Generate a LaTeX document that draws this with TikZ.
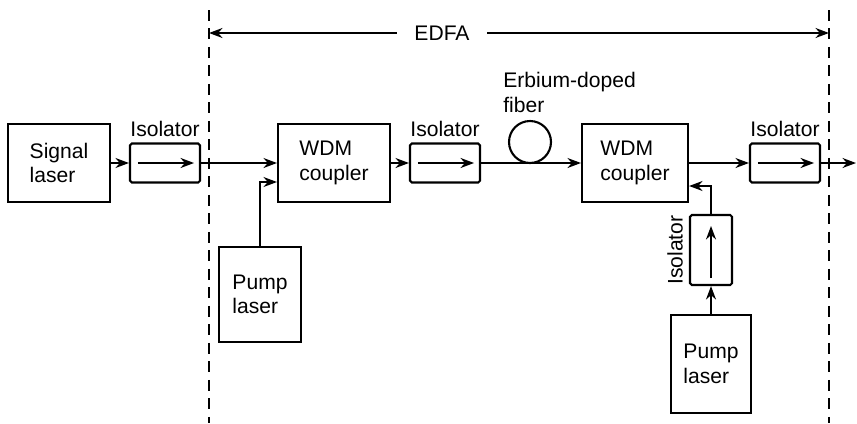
\documentclass[tikz,border=0pt]{standalone}
\usepackage{fontspec}
\setmainfont{Liberation Sans}
\usetikzlibrary{positioning, arrows.meta, calc}

\begin{document}
\begin{tikzpicture}[
  x=0.02cm, y=-0.02cm,
  >={Stealth[length=0.27cm, width=0.2cm]},
  every node/.style={font=\fontsize{12}{14}\selectfont},
  block/.style={
    draw, line width=1.2pt, align=left,
    minimum width=2.2cm, minimum height=1.56cm,
  },
  iso/.style={
    draw, line width=1.2pt, rounded corners=1pt,
    minimum width=1.4cm, minimum height=0.78cm,
  },
  arr/.style={->, line width=1pt},
  inarr/.style={->, line width=1.4pt},
  dline/.style={line width=1.5pt, dash pattern=on 0.22cm off 0.15cm},
  label/.style={inner sep=1pt},
]
\useasboundingbox (0,0) rectangle (857,423);

% === main row ===
\node[block, minimum width=2.04cm] (sig) at (59,163) {Signal\\laser};
\node[iso] (iso1) at (165,163) {};
\node[block, minimum width=2.24cm] (wdm1) at (334,163) {WDM\\coupler};
\node[iso] (iso2) at (445,163) {};
\node[circle, draw, line width=1.2pt, minimum size=0.84cm, inner sep=0pt] (fiber) at (530,142) {};
\node[block, minimum width=2.12cm] (wdm2) at (635,163) {WDM\\coupler};
\node[iso] (iso3) at (785,163) {};
\coordinate (out) at (856,163);

% === pumps ===
\node[block, minimum width=1.64cm, minimum height=1.9cm] (pump1) at (260,294.5) {Pump\\laser};
\node[iso, minimum width=0.84cm, minimum height=1.4cm] (iso4) at (711,250) {};
\node[block, minimum width=1.6cm, minimum height=1.96cm] (pump2) at (711,364) {Pump\\laser};

% labels
\node[label, above=2pt of iso1] {Isolator};
\node[label, above=2pt of iso2] {Isolator};
\node[label, above=2pt of iso3] {Isolator};
\node[label, rotate=90, anchor=south] at ($(iso4.west)+(-4,0)$) {Isolator};
\node[label, align=left, anchor=north west, inner sep=0pt] (fiberlbl) at (503,72) {Erbium-doped\\fiber};

% arrows inside the isolators
\foreach \i in {iso1, iso2, iso3} {
  \draw[inarr] ($(\i.west)+(9,0)$) -- ($(\i.east)+(-7,0)$);
}
\draw[inarr] ($(iso4.south)+(0,-8)$) -- ($(iso4.north)+(0,12)$);

% connectors
\draw[arr] (sig) -- (iso1);
\draw[arr] (iso1) -- (wdm1);
\draw[arr] (wdm1) -- (iso2);
\draw[arr] (iso2) -- (wdm2);
\draw[arr] (wdm2) -- (iso3);
\draw[arr] (iso3) -- (out);
\draw[arr] (pump1.north) |- ([yshift=-0.38cm]wdm1.west);
\draw[arr] (pump2) -- (iso4);
\draw[arr] (iso4.north) |- ([yshift=-0.46cm]wdm2.east);

% === EDFA boundary ===
\coordinate (lt) at (209,10);
\coordinate (lb) at (209,423);
\coordinate (rt) at (829,10);
\coordinate (rb) at (829,423);
\draw[dline] (lt) -- (lb);
\draw[dline] (rt) -- (rb);

\coordinate (edfaL) at (209,33);
\coordinate (edfaR) at (829,33);
\node[label, inner xsep=0.35cm] (edfa) at (442,33) {EDFA};
\draw[arr] (edfa) -- (edfaL);
\draw[arr] (edfa) -- (edfaR);

\end{tikzpicture}
\end{document}
